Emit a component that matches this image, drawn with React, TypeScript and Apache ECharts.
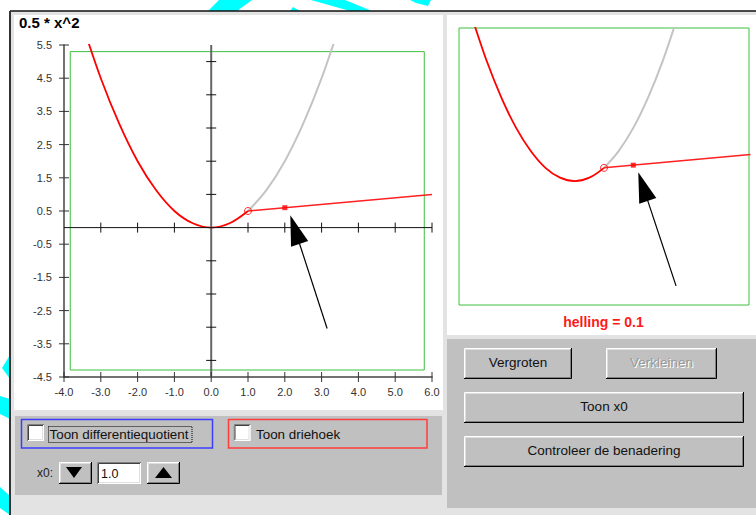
import React, { useEffect, useRef } from "react";
import * as echarts from "echarts";

// ---------- data ----------
const titleText = "0.5 * x^2";
const slopeText = "helling = 0.1";
const xTickValues = [-4, -3, -2, -1, 0, 1, 2, 3, 4, 5, 6];
const yLabelValues = [-4.5, -3.5, -2.5, -1.5, -0.5, 0.5, 1.5, 2.5, 3.5, 4.5, 5.5];
const crossXTicks = [-3, -2, -1, 1, 2, 3, 4, 5, 6];
const crossYTicks = [-4, -3, -2, -1, 1, 2, 3, 4, 5];
// red part of the curve (left of x0) and grey part (right of x0)
const curveRed = [
  [-3.5, 6.13], [-3, 4.5], [-2.5, 3.13], [-2, 2], [-1.5, 1.13],
  [-1, 0.5], [-0.5, 0.13], [0, 0], [0.5, 0.13], [1, 0.5],
];
const curveGrey = [[1, 0.5], [1.5, 1.13], [2, 2], [2.5, 3.13], [3, 4.5], [3.5, 6.13]];
const secantLine = [[1, 0.5], [6, 1.0]];
const x0Point = [[1, 0.5]];
const nearPoint = [[2, 0.6]];
const frameBox = [[-3.83, -4.29, 5.79, 5.3]];
// arrows: tipX, tipY, tailX, tailY
const arrowMain = [[2.15, 0.37, 3.15, -3.04]];
const arrowZoom = [[2.17, 0.33, 3.46, -3.93]];
const x0Value = "1.0";

const FF = "'Liberation Sans', Arial, Helvetica, sans-serif";

function buildGraphic() {
  const els: any[] = [];
  let zc = 0;
  const add = (e: any) => els.push({ ...e, z: -10, z2: zc++ });

  // cyan page decorations
  const cyan = "#00ffff";
  const cyanPolys = [
    [[208, 11], [237, 11], [252, 0], [219, 0]],
    [[290, 11], [300, 11], [293, 7]],
    [[311, 0], [345, 0], [372, 11], [350, 11]],
    [[410, 0], [431, 0], [428, 6], [416, 3]],
    [[10, 355], [2, 368], [10, 379]],
    [[0, 396], [10, 399], [10, 419], [0, 414]],
    [[0, 487], [10, 496], [10, 515], [0, 508]],
  ];
  cyanPolys.forEach((p) => add({ type: "polygon", shape: { points: p }, style: { fill: cyan } }));

  // applet background (dotted look)
  add({ type: "rect", shape: { x: 10, y: 11, width: 746, height: 504 }, style: { fill: "#e3e3e3" } });
  add({ type: "line", shape: { x1: 10, y1: 11, x2: 756, y2: 11 }, style: { stroke: "#111", lineWidth: 1.5 } });
  add({ type: "line", shape: { x1: 10, y1: 11, x2: 10, y2: 515 }, style: { stroke: "#333", lineWidth: 2 } });

  // panels
  add({ type: "rect", shape: { x: 14, y: 15, width: 429, height: 395 }, style: { fill: "#ffffff" } });
  add({ type: "rect", shape: { x: 15, y: 416, width: 427, height: 79 }, style: { fill: "#c0c0c0" } });
  add({ type: "rect", shape: { x: 447, y: 15, width: 309, height: 320 }, style: { fill: "#ffffff" } });
  add({ type: "rect", shape: { x: 447, y: 339, width: 309, height: 169 }, style: { fill: "#c0c0c0" } });

  // title
  add({
    type: "text", x: 19, y: 22.5,
    style: { text: titleText, fill: "#000", font: `bold 15px ${FF}`, textAlign: "left", textVerticalAlign: "middle" },
  });
  // slope text
  add({
    type: "text", x: 603.5, y: 322,
    style: { text: slopeText, fill: "#ff1a1a", font: `bold 14px ${FF}`, textAlign: "center", textVerticalAlign: "middle" },
  });

  const txt = (x: number, y: number, t: string, color: string, size: number, align = "center") =>
    add({
      type: "text", x, y,
      style: { text: t, fill: color, font: `${size}px ${FF}`, textAlign: align, textVerticalAlign: "middle" },
    });

  const bevel = (x: number, y: number, w: number, h: number) => {
    add({ type: "rect", shape: { x, y, width: w, height: h }, style: { fill: "#c0c0c0" } });
    add({ type: "polyline", shape: { points: [[x + 0.5, y + h - 1], [x + 0.5, y + 0.5], [x + w - 1, y + 0.5]] }, style: { stroke: "#ffffff", lineWidth: 1 } });
    add({ type: "polyline", shape: { points: [[x + 1.5, y + h - 2], [x + 1.5, y + 1.5], [x + w - 2, y + 1.5]] }, style: { stroke: "#dfdfdf", lineWidth: 1 } });
    add({ type: "polyline", shape: { points: [[x, y + h - 0.5], [x + w - 0.5, y + h - 0.5], [x + w - 0.5, y]] }, style: { stroke: "#000000", lineWidth: 1 } });
    add({ type: "polyline", shape: { points: [[x + 1, y + h - 1.5], [x + w - 1.5, y + h - 1.5], [x + w - 1.5, y + 1]] }, style: { stroke: "#808080", lineWidth: 1 } });
  };
  const button = (x: number, y: number, w: number, h: number, label: string, disabled = false) => {
    bevel(x, y, w, h);
    const cx = x + w / 2;
    const cy = y + h / 2 - 1;
    if (disabled) {
      txt(cx + 1, cy + 1, label, "#ffffff", 13.5);
      txt(cx, cy, label, "#9a9a9a", 13.5);
    } else {
      txt(cx, cy, label, "#111111", 13.5);
    }
  };
  const sunken = (x: number, y: number, w: number, h: number) => {
    add({ type: "rect", shape: { x, y, width: w, height: h }, style: { fill: "#ffffff" } });
    add({ type: "polyline", shape: { points: [[x + 0.5, y + h], [x + 0.5, y + 0.5], [x + w, y + 0.5]] }, style: { stroke: "#808080", lineWidth: 1 } });
    add({ type: "polyline", shape: { points: [[x + 1.5, y + h - 1], [x + 1.5, y + 1.5], [x + w - 1, y + 1.5]] }, style: { stroke: "#404040", lineWidth: 1 } });
    add({ type: "polyline", shape: { points: [[x + 1, y + h - 0.5], [x + w - 0.5, y + h - 0.5], [x + w - 0.5, y + 1]] }, style: { stroke: "#ffffff", lineWidth: 1 } });
    add({ type: "polyline", shape: { points: [[x + 2, y + h - 1.5], [x + w - 1.5, y + h - 1.5], [x + w - 1.5, y + 2]] }, style: { stroke: "#dfdfdf", lineWidth: 1 } });
  };

  // left control panel
  add({ type: "rect", shape: { x: 21.5, y: 419.5, width: 191, height: 28.5 }, style: { fill: "none", stroke: "#3c3cff", lineWidth: 1.5 } });
  add({ type: "rect", shape: { x: 228.5, y: 419.5, width: 198.5, height: 28.5 }, style: { fill: "none", stroke: "#ff3c3c", lineWidth: 1.5 } });
  sunken(27, 424, 17, 17);
  sunken(233.5, 424, 17, 17);
  add({ type: "rect", shape: { x: 48.5, y: 426.5, width: 143.5, height: 16 }, style: { fill: "none", stroke: "#000", lineWidth: 1, lineDash: [1, 1] } });
  txt(49.5, 434.5, "Toon differentiequotient", "#111", 13.4, "left");
  txt(256, 434.5, "Toon driehoek", "#111", 13.4, "left");
  txt(37, 473, "x0:", "#222", 12, "left");
  bevel(59, 462, 33, 22);
  add({ type: "polygon", shape: { points: [[66, 467], [82, 467], [74, 478]] }, style: { fill: "#000" } });
  sunken(97, 462, 44, 22);
  txt(101, 473.5, x0Value, "#111", 12.5, "left");
  bevel(147, 462, 33, 22);
  add({ type: "polygon", shape: { points: [[155, 478], [172, 478], [163.5, 467]] }, style: { fill: "#000" } });

  // right control panel
  button(464, 348, 108, 31, "Vergroten");
  button(606, 348, 111, 31, "Verkleinen", true);
  button(464, 392, 280, 31, "Toon x0");
  button(464, 436, 280, 31, "Controleer de benadering");

  return els;
}

function tickSeries(data: number[][], horizontal: boolean, color = "#111") {
  return {
    type: "custom",
    xAxisIndex: 0,
    yAxisIndex: 0,
    data,
    z: 6,
    silent: true,
    renderItem: (_p: any, api: any) => {
      const c = api.coord([api.value(0), api.value(1)]);
      const L = 5;
      const shape = horizontal
        ? { x1: c[0] - L, y1: c[1], x2: c[0] + L, y2: c[1] }
        : { x1: c[0], y1: c[1] - L, x2: c[0], y2: c[1] + L };
      return { type: "line", shape, style: { stroke: color, lineWidth: 1 } };
    },
  };
}

function arrowSeries(data: number[][], gi: number) {
  return {
    type: "custom",
    xAxisIndex: gi,
    yAxisIndex: gi,
    data,
    z: 7,
    silent: true,
    renderItem: (_p: any, api: any) => {
      const tip = api.coord([api.value(0), api.value(1)]);
      const tail = api.coord([api.value(2), api.value(3)]);
      const dx = tip[0] - tail[0];
      const dy = tip[1] - tail[1];
      const len = Math.hypot(dx, dy);
      const ux = dx / len;
      const uy = dy / len;
      const headLen = 30;
      const headW = 9;
      const bx = tip[0] - ux * headLen;
      const by = tip[1] - uy * headLen;
      const px = -uy;
      const py = ux;
      return {
        type: "group",
        children: [
          { type: "line", shape: { x1: tail[0], y1: tail[1], x2: bx + ux * 2, y2: by + uy * 2 }, style: { stroke: "#000", lineWidth: 1.2 } },
          {
            type: "polygon",
            shape: { points: [[tip[0], tip[1]], [bx + px * headW, by + py * headW], [bx - px * headW, by - py * headW]] },
            style: { fill: "#000" },
          },
        ],
      };
    },
  };
}

function curveSeries(gi: number) {
  return [
    {
      type: "line", xAxisIndex: gi, yAxisIndex: gi, data: curveGrey, smooth: 0.35, symbol: "none", clip: true,
      lineStyle: { color: "#c4c4c4", width: 2 }, z: 2, silent: true,
    },
    {
      type: "line", xAxisIndex: gi, yAxisIndex: gi, data: curveRed, smooth: 0.35, symbol: "none", clip: true,
      lineStyle: { color: "#ff0000", width: 1.8 }, z: 3, silent: true,
    },
    {
      type: "line", xAxisIndex: gi, yAxisIndex: gi, data: secantLine, symbol: "none", clip: true,
      lineStyle: { color: "#ff2020", width: 1.5 }, z: 3, silent: true,
    },
    {
      type: "scatter", xAxisIndex: gi, yAxisIndex: gi, data: x0Point, symbol: "circle", symbolSize: 7,
      itemStyle: { color: "rgba(255,255,255,0)", borderColor: "#ff0000", borderWidth: 1 }, z: 8, silent: true,
    },
    {
      type: "scatter", xAxisIndex: gi, yAxisIndex: gi, data: nearPoint, symbol: "rect", symbolSize: 5,
      itemStyle: { color: "#ff0000" }, z: 8, silent: true,
    },
    arrowSeries(gi === 0 ? arrowMain : arrowZoom, gi),
  ];
}

function buildOption() {
  return {
    animation: false,
    grid: [
      { left: 64, top: 45, width: 368, height: 332 },
      { left: 459, top: 28, width: 290, height: 277, show: true, borderColor: "#3fbf3f", borderWidth: 1, backgroundColor: "transparent" },
    ],
    xAxis: [
      {
        type: "value", gridIndex: 0, min: -4, max: 6, interval: 1, position: "bottom",
        axisLine: { show: true, onZero: false, lineStyle: { color: "#444", width: 1.5 } },
        axisTick: { show: false }, splitLine: { show: false },
        axisLabel: { formatter: (v: number) => v.toFixed(1), color: "#333", fontSize: 11, fontFamily: FF, margin: 9 },
      },
      { type: "value", gridIndex: 1, min: -3.95, max: 5.95, show: false },
    ],
    yAxis: [
      {
        type: "value", gridIndex: 0, min: -4.5, max: 5.5, interval: 0.5, position: "left",
        axisLine: { show: true, onZero: false, lineStyle: { color: "#444", width: 1.5 } },
        axisTick: { show: false }, splitLine: { show: false },
        axisLabel: {
          formatter: (v: number) => (yLabelValues.some((t) => Math.abs(t - v) < 1e-6) ? v.toFixed(1) : ""),
          color: "#333", fontSize: 11, fontFamily: FF, margin: 12,
        },
      },
      { type: "value", gridIndex: 1, min: -4.65, max: 5.75, show: false },
    ],
    series: [
      // green frame in main view
      {
        type: "custom", xAxisIndex: 0, yAxisIndex: 0, data: frameBox, z: 1, silent: true,
        renderItem: (_p: any, api: any) => {
          const a = api.coord([api.value(0), api.value(1)]);
          const b = api.coord([api.value(2), api.value(3)]);
          return {
            type: "rect",
            shape: { x: Math.min(a[0], b[0]), y: Math.min(a[1], b[1]), width: Math.abs(b[0] - a[0]), height: Math.abs(b[1] - a[1]) },
            style: { fill: "none", stroke: "#3fbf3f", lineWidth: 1 },
          };
        },
      },
      ...curveSeries(0),
      ...curveSeries(1),
      // cross axes through the origin
      {
        type: "line", xAxisIndex: 0, yAxisIndex: 0, data: [[0, -4.5], [0, 5.5]], symbol: "none",
        lineStyle: { color: "#666", width: 2 }, z: 5, silent: true,
      },
      {
        type: "line", xAxisIndex: 0, yAxisIndex: 0, data: [[-4, 0], [6, 0]], symbol: "none",
        lineStyle: { color: "#111", width: 1 }, z: 5, silent: true,
      },
      tickSeries(yLabelValues.map((v) => [-4, v]), true, "#333"),
      tickSeries(xTickValues.map((v) => [v, -4.5]), false, "#333"),
      tickSeries(crossXTicks.map((v) => [v, 0]), false),
      tickSeries(crossYTicks.map((v) => [0, v]), true),
    ],
    graphic: { elements: buildGraphic() },
  };
}

export default function App() {
  const ref = useRef<HTMLDivElement>(null);
  useEffect(() => {
    if (!ref.current) return;
    const chart = echarts.init(ref.current, null, { renderer: "svg" });
    chart.setOption(buildOption() as any);
    return () => chart.dispose();
  }, []);
  return (
    <div
      ref={ref}
      style={{ position: "absolute", left: 0, top: 0, width: 756, height: 515, background: "#ffffff" }}
    />
  );
}
